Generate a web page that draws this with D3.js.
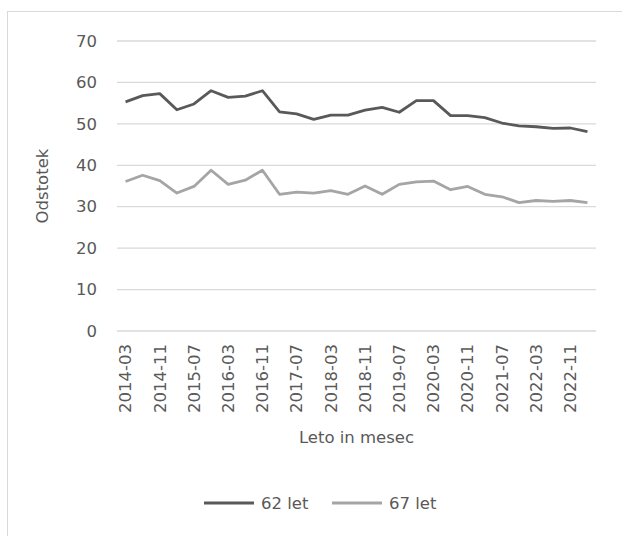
<!DOCTYPE html>
<html>
<head>
<meta charset="utf-8">
<script src="https://cdn.jsdelivr.net/npm/d3@7"></script>
<style>
  body { margin: 0; background: #fff; }
  svg text { font-family: "DejaVu Sans", sans-serif; fill: #595959; }
</style>
</head>
<body>
<svg id="chart" width="622" height="536"></svg>
<script>
var width = 622, height = 536;

// kategorije (vsake 4 mesece)
var months = ["2014-03","2014-07","2014-11","2015-03","2015-07","2015-11","2016-03","2016-07","2016-11",
  "2017-03","2017-07","2017-11","2018-03","2018-07","2018-11","2019-03","2019-07","2019-11",
  "2020-03","2020-07","2020-11","2021-03","2021-07","2021-11","2022-03","2022-07","2022-11","2023-03"];

var let62 = [55.3,56.8,57.3,53.4,54.8,58.0,56.4,56.7,58.0,52.9,52.4,51.1,52.1,52.1,53.3,54.0,52.8,55.6,
  55.6,52.0,52.0,51.5,50.2,49.5,49.3,48.9,49.0,48.1];
var let67 = [36.1,37.6,36.3,33.3,34.9,38.8,35.4,36.4,38.8,33.0,33.5,33.3,33.9,33.0,35.0,33.0,35.4,36.0,
  36.2,34.1,34.9,33.0,32.4,31.0,31.5,31.3,31.5,31.0];

var yTicks = [0,10,20,30,40,50,60,70];
var seriesNames = ["62 let","67 let"];
var seriesColors = ["#595959","#a5a5a5"];

var margin = {left: 117, right: 26, top: 41, bottom: 205};
var fs = "16.5px";

var svg = d3.select("#chart");

// okvir
svg.append("rect")
    .attr("x", 7.5).attr("y", 11.5)
    .attr("width", 640).attr("height", 560)
    .attr("fill", "none").attr("stroke", "#d9d9d9");

var x = d3.scaleBand().domain(months)
    .range([margin.left, width - margin.right]);
var y = d3.scaleLinear().domain([0, 70])
    .range([height - margin.bottom, margin.top]);

// mreža
svg.append("g").selectAll("line").data(yTicks).enter().append("line")
    .attr("x1", margin.left).attr("x2", width - margin.right)
    .attr("y1", function(d) { return y(d); }).attr("y2", function(d) { return y(d); })
    .attr("stroke", "#d9d9d9").attr("stroke-width", 1.3);

// oznake y
svg.append("g").selectAll("text").data(yTicks).enter().append("text")
    .attr("x", 97).attr("y", function(d) { return y(d); })
    .attr("dy", "0.35em").attr("text-anchor", "end")
    .style("font-size", fs)
    .text(function(d) { return d; });

// oznake x (vsaka druga)
svg.append("g").selectAll("text")
    .data(months.filter(function(d, i) { return i % 2 == 0 && i < 27; }))
    .enter().append("text")
    .attr("transform", function(d) {
        return "translate(" + (x(d) + x.bandwidth() / 2) + ",344) rotate(-90)";
    })
    .attr("dy", "0.35em").attr("text-anchor", "end")
    .style("font-size", fs)
    .text(function(d) { return d; });

// naslovi osi
svg.append("text")
    .attr("transform", "translate(42," + y(35) + ") rotate(-90)")
    .attr("dy", "0.35em").attr("text-anchor", "middle")
    .style("font-size", fs)
    .text("Odstotek");

svg.append("text")
    .attr("x", (margin.left + width - margin.right) / 2).attr("y", 443)
    .attr("text-anchor", "middle")
    .style("font-size", fs)
    .text("Leto in mesec");

var line = d3.line()
    .x(function(d, i) { return x(months[i]) + x.bandwidth() / 2; })
    .y(function(d) { return y(d); });

[let62, let67].forEach(function(s, k) {
    svg.append("path").datum(s)
        .attr("d", line)
        .attr("fill", "none")
        .attr("stroke", seriesColors[k])
        .attr("stroke-width", 2.8)
        .attr("stroke-linejoin", "round");
});

// legenda
var legX = [204, 332];
seriesNames.forEach(function(n, k) {
    svg.append("line")
        .attr("x1", legX[k]).attr("x2", legX[k] + 50)
        .attr("y1", 503).attr("y2", 503)
        .attr("stroke", seriesColors[k]).attr("stroke-width", 2.8);
    svg.append("text")
        .attr("x", legX[k] + 57).attr("y", 503)
        .attr("dy", "0.35em")
        .style("font-size", fs)
        .text(n);
});
</script>
</body>
</html>
